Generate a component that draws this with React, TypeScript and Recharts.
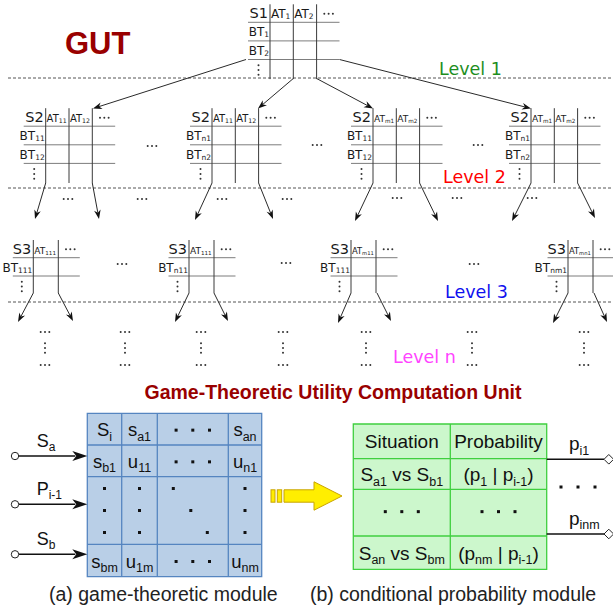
import React from 'react';
import { ScatterChart, XAxis, YAxis, Scatter, ReferenceLine, ReferenceArea } from 'recharts';

const W = 613;
const H = 612;

// ---------------- Tree part (GUT) ----------------
const treeTablesL12 = [
  { x: 270, y: 22.3, s: 'S1', cols: ['AT{1}', 'AT{2}'], rows: ['BT{1}', 'BT{2}'] },
  { x: 45.7, y: 126.2, s: 'S2', cols: ['AT{11}', 'AT{12}'], rows: ['BT{11}', 'BT{12}'] },
  { x: 212, y: 126.2, s: 'S2', cols: ['AT{11}', 'AT{12}'], rows: ['BT{n1}', 'BT{n2}'] },
  { x: 373, y: 126.2, s: 'S2', cols: ['AT{m1}', 'AT{m2}'], rows: ['BT{11}', 'BT{12}'] },
  { x: 531, y: 126.2, s: 'S2', cols: ['AT{m1}', 'AT{m2}'], rows: ['BT{n1}', 'BT{n2}'] },
];

const treeTablesL3 = [
  { x: 33.3, y: 257.7, s: 'S3', cols: ['AT{111}'], rows: ['BT{111}'] },
  { x: 189, y: 257.7, s: 'S3', cols: ['AT{111}'], rows: ['BT{n11}'] },
  { x: 351, y: 257.7, s: 'S3', cols: ['AT{m11}'], rows: ['BT{111}'] },
  { x: 568, y: 257.7, s: 'S3', cols: ['AT{mn1}'], rows: ['BT{nm1}'] },
];

const treeArrows = [
  { x1: 246, y1: 59.5, x2: 93, y2: 108.5 },
  { x1: 293.3, y1: 78.5, x2: 258, y2: 108.5 },
  { x1: 316.6, y1: 78.5, x2: 373, y2: 108.5 },
  { x1: 339.5, y1: 59.5, x2: 531, y2: 108.5 },
  { x1: 45.7, y1: 183, x2: 35, y2: 219 },
  { x1: 92.3, y1: 183, x2: 99, y2: 219 },
  { x1: 212, y1: 183, x2: 195, y2: 220 },
  { x1: 258.6, y1: 183, x2: 273, y2: 219 },
  { x1: 373, y1: 183, x2: 355, y2: 221 },
  { x1: 419.6, y1: 183, x2: 438, y2: 221 },
  { x1: 531, y1: 183, x2: 512, y2: 221 },
  { x1: 577.6, y1: 183, x2: 595, y2: 218 },
  { x1: 33.3, y1: 293, x2: 18, y2: 322 },
  { x1: 58.3, y1: 293, x2: 73, y2: 321 },
  { x1: 189, y1: 293, x2: 175, y2: 322 },
  { x1: 214, y1: 293, x2: 228, y2: 321 },
  { x1: 351, y1: 293, x2: 338, y2: 323 },
  { x1: 377, y1: 293, x2: 391, y2: 321 },
  { x1: 568, y1: 293, x2: 553, y2: 323 },
  { x1: 594, y1: 293, x2: 607, y2: 322 },
];

const hEllipses = [
  { x: 152, y: 146 }, { x: 317, y: 145 }, { x: 478, y: 145 },
  { x: 68, y: 199 }, { x: 142, y: 199 }, { x: 222, y: 199 }, { x: 287, y: 199 },
  { x: 397, y: 198 }, { x: 457, y: 198 }, { x: 532, y: 198 },
  { x: 122, y: 264 }, { x: 286, y: 263 }, { x: 474, y: 264 },
];

const leafGroups = [
  { x: 45, y: 348 }, { x: 125, y: 348 }, { x: 201, y: 348 }, { x: 283, y: 348 },
  { x: 366, y: 348 }, { x: 472, y: 348 }, { x: 584, y: 348 },
];

const levelSeparators = [78, 188, 302];
const levelLabels = [
  { x: 439, y: 75, t: 'Level 1' },
  { x: 443, y: 183.3, t: 'Level 2' },
  { x: 445, y: 298.3, t: 'Level 3' },
  { x: 393, y: 363.3, t: 'Level n' },
];
const LEVEL_COLORS = ['#1e8e1e', '#ff0000', '#1010ee', '#ff44ff'];

const gutTitle = [{ x: 65, y: 54, t: 'GUT' }];

// ---------------- Bottom part ----------------
const unitTitle = [{ x: 333, y: 399, t: 'Game-Theoretic Utility Computation Unit' }];

const gridACols = [87.3, 121.7, 157.3, 228.3, 261.7];
const gridARows = [413.3, 445, 476.7, 544.3, 576.7];
const gridACells = [
  { c: 0, r: 0, t: 'S{i}' }, { c: 1, r: 0, t: 's{a1}' }, { c: 2, r: 0, t: 'h' }, { c: 3, r: 0, t: 's{an}' },
  { c: 0, r: 1, t: 's{b1}' }, { c: 1, r: 1, t: 'u{11}' }, { c: 2, r: 1, t: 'h' }, { c: 3, r: 1, t: 'u{n1}' },
  { c: 0, r: 2, t: 'v' }, { c: 1, r: 2, t: 'v' }, { c: 2, r: 2, t: 'd' }, { c: 3, r: 2, t: 'v' },
  { c: 0, r: 3, t: 's{bm}' }, { c: 1, r: 3, t: 'u{1m}' }, { c: 2, r: 3, t: 'h' }, { c: 3, r: 3, t: 'u{nm}' },
];
const inputs = [
  { y: 456, label: 'S{a}' },
  { y: 504.3, label: 'P{i-1}' },
  { y: 554.3, label: 'S{b}' },
];
const inputStartX = 15;

const gridBCols = [353.3, 450.3, 546.7];
const gridBRows = [424, 458.7, 489.3, 536, 569.3];
const gridBCells = [
  { c: 0, r: 0, t: 'Situation' }, { c: 1, r: 0, t: 'Probability' },
  { c: 0, r: 1, t: 'S{a1} vs S{b1}' }, { c: 1, r: 1, t: '(p{1} | p{i-1})' },
  { c: 0, r: 2, t: 'h' }, { c: 1, r: 2, t: 'h' },
  { c: 0, r: 3, t: 'S{an} vs S{bm}' }, { c: 1, r: 3, t: '(p{nm} | p{i-1})' },
];
const outputs = [
  { y: 459.3, label: 'p{i1}' },
  { y: 534, label: 'p{inm}' },
];
const outputEndX = 604;
const outputDots = [{ x: 578, y: 487 }];

const transferArrow = { x1: 271, x2: 342, y: 496 };

const captions = [
  { x: 49, y: 601, t: '(a) game-theoretic module' },
  { x: 310, y: 601, t: '(b) conditional probability module' },
];

// ---------------- helpers ----------------
const TREE_FONT = '"DejaVu Sans", sans-serif';
const SANS = '"Liberation Sans", Arial, sans-serif';

function parseRich(s: string) {
  const parts: { t: string; sub: boolean }[] = [];
  const re = /\{([^}]*)\}/g;
  let last = 0;
  let m: RegExpExecArray | null;
  while ((m = re.exec(s))) {
    if (m.index > last) parts.push({ t: s.slice(last, m.index), sub: false });
    parts.push({ t: m[1], sub: true });
    last = m.index + m[0].length;
  }
  if (last < s.length) parts.push({ t: s.slice(last), sub: false });
  return parts;
}

function Rich(props: any) {
  const { x, y, s, size, subSize, subDy, anchor = 'start', family, fill = '#111', weight } = props;
  const parts = parseRich(s);
  let cur = 0;
  return (
    <text x={x} y={y} textAnchor={anchor} fontFamily={family} fontSize={size} fill={fill} fontWeight={weight} style={{ whiteSpace: 'pre' }}>
      {parts.map((p, i) => {
        const target = p.sub ? subDy : 0;
        const dy = target - cur;
        cur = target;
        return (
          <tspan key={i} fontSize={p.sub ? subSize : size} dy={dy !== 0 ? dy : undefined}>
            {p.t}
          </tspan>
        );
      })}
    </text>
  );
}

// rough width estimate for a DejaVu Sans label like "AT{m1}"
function estWidth(s: string, size: number, subSize: number) {
  let w = 0;
  parseRich(s).forEach((p) => {
    for (const ch of p.t) {
      const f = ch === 'm' ? 0.98 : 0.65;
      w += f * (p.sub ? subSize : size);
    }
  });
  return w;
}

function smallDots(x: number, y: number, dir: 'h' | 'v', key: string) {
  const gap = dir === 'h' ? 4.3 : 4.8;
  return [0, 1, 2].map((i) => (
    <circle
      key={key + i}
      cx={dir === 'h' ? x + (i - 1) * gap : x}
      cy={dir === 'v' ? y + (i - 1) * gap : y}
      r={1}
      fill="#333"
    />
  ));
}

function bigDots(pts: [number, number][], key: string) {
  return pts.map(([x, y], i) => <rect key={key + i} x={x - 1.5} y={y - 1.5} width={3} height={3} fill="#111" />);
}

const GEO_L12 = { colDx: [0, 23.3, 46.6], rowDy: [0, 18.6, 37.2], left: -22, right: 69.5, top: -18, bottom: 56.8 };
const GEO_L3 = { colDx: [0, 25], rowDy: [0, 18.3], left: -20.5, right: 46.5, top: -17.7, bottom: 35.3 };

function TreeTable(props: any) {
  const { cx, cy, payload, geo } = props;
  const g = geo;
  const last = g.rowDy[g.rowDy.length - 1];
  const LS = 12;
  const SS = 7.5;
  return (
    <g>
      {g.rowDy.map((dy: number, i: number) => (
        <line key={'h' + i} x1={cx + g.left} x2={cx + g.right} y1={cy + dy} y2={cy + dy} stroke="#7d7d7d" strokeWidth={1} />
      ))}
      {g.colDx.map((dx: number, i: number) => (
        <line key={'v' + i} x1={cx + dx} x2={cx + dx} y1={cy + g.top} y2={cy + g.bottom} stroke="#3a3a3a" strokeWidth={1} />
      ))}
      <text x={cx - 2} y={cy - 4} textAnchor="end" fontFamily={TREE_FONT} fontSize={14.5} fill="#1a1a1a">
        {payload.s}
      </text>
      {payload.cols.map((c: string, i: number) => {
        const avail = g.colDx[i + 1] - g.colDx[i] - 2.2;
        const est = estWidth(c, LS, SS);
        const k = est > avail ? avail / est : 1;
        return (
          <Rich
            key={'c' + i}
            x={cx + g.colDx[i] + 0.9}
            y={cy - 4}
            s={c}
            size={LS * k}
            subSize={SS * k}
            subDy={1}
            family={TREE_FONT}
            fill="#1a1a1a"
          />
        );
      })}
      {smallDots(cx + g.colDx[payload.cols.length] + 12, cy - 8.5, 'h', 'hd')}
      {payload.rows.map((r: string, i: number) => (
        <Rich key={'r' + i} x={cx - 1} y={cy + g.rowDy[i] + 14} s={r} size={LS} subSize={SS} subDy={1} anchor="end" family={TREE_FONT} fill="#1a1a1a" />
      ))}
      {smallDots(cx - 11.5, cy + last + 10.5, 'v', 'vd')}
    </g>
  );
}

function TreeArrow(props: any) {
  const { x1, y1, x2, y2 } = props;
  const ang = Math.atan2(y2 - y1, x2 - x1);
  const L = 9;
  const Wd = 3.3;
  const c = Math.cos(ang);
  const s = Math.sin(ang);
  const bx = x2 - L * c;
  const by = y2 - L * s;
  const nx = -s * Wd;
  const ny = c * Wd;
  const mx = x2 - L * 0.7 * c;
  const my = y2 - L * 0.7 * s;
  return (
    <g>
      <line x1={x1} y1={y1} x2={mx} y2={my} stroke="#2a2a2a" strokeWidth={1} />
      <polygon points={`${x2},${y2} ${bx + nx},${by + ny} ${mx},${my} ${bx - nx},${by - ny}`} fill="#111" />
    </g>
  );
}

function InputArrow(props: any) {
  const { x1, y1, x2 } = props;
  const r = 3.7;
  return (
    <g>
      <line x1={x1 + r} y1={y1} x2={x2 - 12} y2={y1} stroke="#111" strokeWidth={1.6} />
      <polygon points={`${x2},${y1} ${x2 - 15},${y1 - 5} ${x2 - 11},${y1} ${x2 - 15},${y1 + 5}`} fill="#111" />
      <circle cx={x1} cy={y1} r={r} fill="#fff" stroke="#222" strokeWidth={1} />
    </g>
  );
}

function OutputLine(props: any) {
  const { x1, y1, x2 } = props;
  const d = 4.8;
  return (
    <g>
      <line x1={x1} y1={y1} x2={x2} y2={y1} stroke="#111" strokeWidth={1.6} />
      <polygon points={`${x2},${y1} ${x2 + d},${y1 - d} ${x2 + 2 * d},${y1} ${x2 + d},${y1 + d}`} fill="#fff" stroke="#222" strokeWidth={1} />
    </g>
  );
}

function YellowArrow(props: any) {
  const { x1, y1, x2 } = props;
  const y = y1;
  const bh = 6.2;
  const hh = 14.2;
  const headLen = 28;
  const st = { fill: '#ffee00', stroke: '#c9a400', strokeWidth: 1 };
  return (
    <g>
      <rect x={x1} y={y - bh} width={4} height={2 * bh} {...st} />
      <rect x={x1 + 6.3} y={y - bh} width={4.4} height={2 * bh} {...st} />
      <polygon
        points={`${x1 + 13},${y - bh} ${x2 - headLen},${y - bh} ${x2 - headLen},${y - hh} ${x2},${y} ${x2 - headLen},${y + hh} ${x2 - headLen},${y + bh} ${x1 + 13},${y + bh}`}
        {...st}
      />
    </g>
  );
}

function cellPoints(cells: { c: number; r: number; t: string }[], cols: number[], rows: number[]) {
  return cells.map((c) => ({ x: (cols[c.c] + cols[c.c + 1]) / 2, y: (rows[c.r] + rows[c.r + 1]) / 2, t: c.t }));
}

function GridACell(props: any) {
  const { cx, cy, payload } = props;
  const t = payload.t;
  if (t === 'h') return <g>{bigDots([[cx - 16.7, cy + 1], [cx, cy + 1], [cx + 16.7, cy + 1]], 'h')}</g>;
  if (t === 'v') return <g>{bigDots([[cx, cy - 22], [cx, cy], [cx, cy + 22]], 'v')}</g>;
  if (t === 'd') return <g>{bigDots([[cx - 19.5, cy - 22], [cx - 2, cy], [cx + 14.5, cy + 22]], 'd')}</g>;
  return <Rich x={cx} y={cy + 7} s={t} size={18.5} subSize={12.5} subDy={4.5} anchor="middle" family={SANS} fill="#111" />;
}

function GridBCell(props: any) {
  const { cx, cy, payload } = props;
  const t = payload.t;
  if (t === 'h') return <g>{bigDots([[cx - 16.5, cy - 1], [cx, cy - 1], [cx + 16.5, cy - 1]], 'h')}</g>;
  return <Rich x={cx} y={cy + 7} s={t} size={19} subSize={12.5} subDy={4.5} anchor="middle" family={SANS} fill="#111" />;
}

export default function App() {
  const aPts = cellPoints(gridACells, gridACols, gridARows);
  const bPts = cellPoints(gridBCells, gridBCols, gridBRows);
  const inputLabelPts = inputs.map((d) => ({ x: inputStartX + 21.7, y: d.y - 9.5, t: d.label }));
  const outputLabelPts = outputs.map((d) => ({ x: 569, y: d.y - 9.3, t: d.label }));

  return (
    <div style={{ position: 'absolute', left: 0, top: 0, width: W, height: H, background: '#fff' }}>
      <ScatterChart width={W} height={H} margin={{ top: 0, right: 0, bottom: 0, left: 0 }}>
        <XAxis type="number" dataKey="x" domain={[0, W]} allowDataOverflow hide />
        <YAxis type="number" dataKey="y" domain={[0, H]} allowDataOverflow reversed hide />

        {levelSeparators.map((y, i) => (
          <ReferenceLine
            key={'sep' + i}
            segment={[{ x: 8, y }, { x: W, y }]}
            stroke="#555"
            strokeWidth={1}
            strokeDasharray="3 2"
          />
        ))}

        {treeArrows.map((a, i) => (
          <ReferenceLine key={'ta' + i} segment={[{ x: a.x1, y: a.y1 }, { x: a.x2, y: a.y2 }]} shape={TreeArrow} />
        ))}

        <Scatter data={treeTablesL12} isAnimationActive={false} shape={(p: any) => <TreeTable {...p} geo={GEO_L12} />} />
        <Scatter data={treeTablesL3} isAnimationActive={false} shape={(p: any) => <TreeTable {...p} geo={GEO_L3} />} />

        <Scatter data={hEllipses} isAnimationActive={false} shape={(p: any) => <g>{smallDots(p.cx, p.cy, 'h', 'e')}</g>} />
        <Scatter
          data={leafGroups}
          isAnimationActive={false}
          shape={(p: any) => (
            <g>
              {smallDots(p.cx, p.cy - 16, 'h', 'a')}
              {smallDots(p.cx, p.cy, 'v', 'b')}
              {smallDots(p.cx, p.cy + 17, 'h', 'c')}
            </g>
          )}
        />

        <Scatter
          data={levelLabels}
          isAnimationActive={false}
          shape={(p: any) => (
            <text x={p.cx} y={p.cy} fontFamily={TREE_FONT} fontSize={17.5} fill={LEVEL_COLORS[p.index ?? levelLabels.indexOf(p.payload)]}>
              {p.payload.t}
            </text>
          )}
        />

        <Scatter
          data={gutTitle}
          isAnimationActive={false}
          shape={(p: any) => (
            <text x={p.cx} y={p.cy} fontFamily={SANS} fontWeight="bold" fontSize={31} fill="#990000">
              {p.payload.t}
            </text>
          )}
        />

        <Scatter
          data={unitTitle}
          isAnimationActive={false}
          shape={(p: any) => (
            <text x={p.cx} y={p.cy} textAnchor="middle" fontFamily={SANS} fontWeight="bold" fontSize={19.5} fill="#990000">
              {p.payload.t}
            </text>
          )}
        />

        <ReferenceArea
          x1={gridACols[0]}
          x2={gridACols[gridACols.length - 1]}
          y1={gridARows[0]}
          y2={gridARows[gridARows.length - 1]}
          fill="#b9cfe7"
          fillOpacity={1}
          stroke="#5585c0"
          strokeWidth={1.3}
        />
        {gridACols.slice(1, -1).map((x, i) => (
          <ReferenceLine key={'ac' + i} segment={[{ x, y: gridARows[0] }, { x, y: gridARows[gridARows.length - 1] }]} stroke="#5585c0" strokeWidth={1.3} />
        ))}
        {gridARows.slice(1, -1).map((y, i) => (
          <ReferenceLine key={'ar' + i} segment={[{ x: gridACols[0], y }, { x: gridACols[gridACols.length - 1], y }]} stroke="#5585c0" strokeWidth={1.3} />
        ))}
        <Scatter data={aPts} isAnimationActive={false} shape={GridACell} />

        {inputs.map((d, i) => (
          <ReferenceLine key={'in' + i} segment={[{ x: inputStartX, y: d.y }, { x: gridACols[0], y: d.y }]} shape={InputArrow} />
        ))}
        <Scatter
          data={inputLabelPts}
          isAnimationActive={false}
          shape={(p: any) => <Rich x={p.cx} y={p.cy} s={p.payload.t} size={18} subSize={12} subDy={4.5} family={SANS} fill="#111" />}
        />

        <ReferenceLine
          segment={[{ x: transferArrow.x1, y: transferArrow.y }, { x: transferArrow.x2, y: transferArrow.y }]}
          shape={YellowArrow}
        />

        <ReferenceArea
          x1={gridBCols[0]}
          x2={gridBCols[gridBCols.length - 1]}
          y1={gridBRows[0]}
          y2={gridBRows[gridBRows.length - 1]}
          fill="#ccf7cc"
          fillOpacity={1}
          stroke="#3fcf3f"
          strokeWidth={1.3}
        />
        {gridBCols.slice(1, -1).map((x, i) => (
          <ReferenceLine key={'bc' + i} segment={[{ x, y: gridBRows[0] }, { x, y: gridBRows[gridBRows.length - 1] }]} stroke="#3fcf3f" strokeWidth={1.3} />
        ))}
        {gridBRows.slice(1, -1).map((y, i) => (
          <ReferenceLine key={'br' + i} segment={[{ x: gridBCols[0], y }, { x: gridBCols[gridBCols.length - 1], y }]} stroke="#3fcf3f" strokeWidth={1.3} />
        ))}
        <Scatter data={bPts} isAnimationActive={false} shape={GridBCell} />

        {outputs.map((d, i) => (
          <ReferenceLine key={'out' + i} segment={[{ x: gridBCols[gridBCols.length - 1], y: d.y }, { x: outputEndX, y: d.y }]} shape={OutputLine} />
        ))}
        <Scatter
          data={outputLabelPts}
          isAnimationActive={false}
          shape={(p: any) => <Rich x={p.cx} y={p.cy} s={p.payload.t} size={19} subSize={12.5} subDy={4.5} family={SANS} fill="#111" />}
        />
        <Scatter
          data={outputDots}
          isAnimationActive={false}
          shape={(p: any) => <g>{bigDots([[p.cx - 17, p.cy], [p.cx, p.cy], [p.cx + 17, p.cy]], 'o')}</g>}
        />

        <Scatter
          data={captions}
          isAnimationActive={false}
          shape={(p: any) => (
            <text x={p.cx} y={p.cy} fontFamily={SANS} fontSize={19.5} fill="#222">
              {p.payload.t}
            </text>
          )}
        />
      </ScatterChart>
    </div>
  );
}
